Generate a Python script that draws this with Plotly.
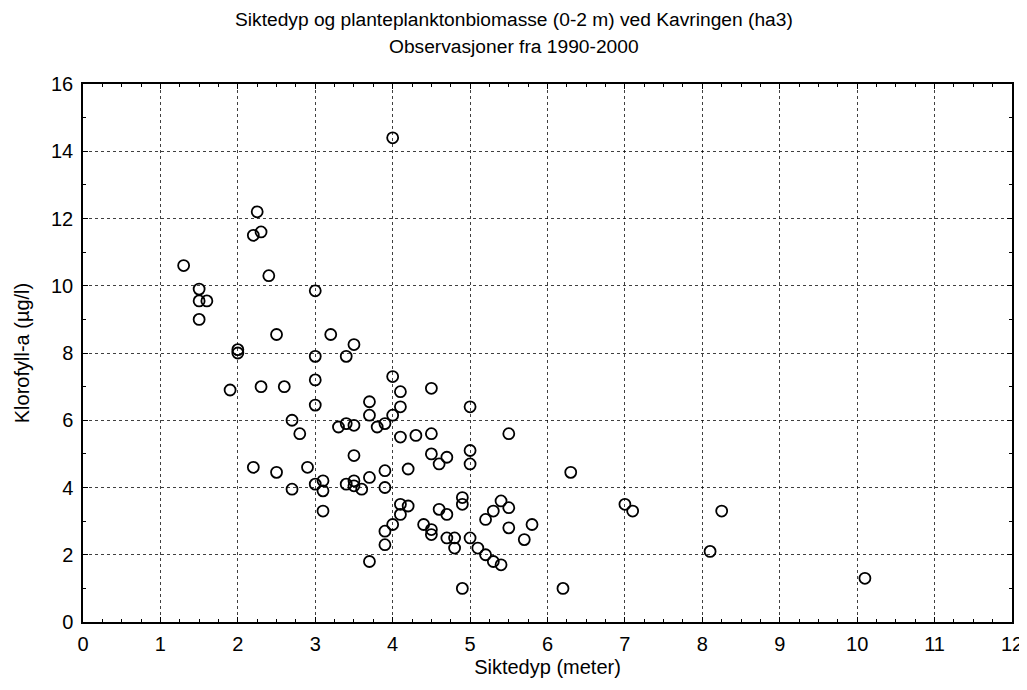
import plotly.graph_objects as go

siktedyp = [1.3, 1.5, 1.5, 1.6, 1.5, 1.9, 2.0, 2.0, 2.2, 2.25, 2.3, 2.4, 2.5, 2.3, 2.6,
            2.2, 2.5, 2.7, 2.8, 2.7, 2.9, 3.0, 3.0, 3.0, 3.0, 3.0, 3.1, 3.1, 3.1, 3.2,
            3.3, 3.4, 3.4, 3.5, 3.4, 3.5, 3.5, 3.5, 3.5, 3.6, 3.7, 3.7, 3.7, 3.7, 3.8,
            3.9, 3.9, 3.9, 3.9, 3.9, 4.0, 4.0, 4.0, 4.0, 4.1, 4.1, 4.1, 4.1, 4.1, 4.2,
            4.2, 4.3, 4.4, 4.5, 4.5, 4.5, 4.5, 4.5, 4.6, 4.6, 4.7, 4.7, 4.7, 4.8, 4.8,
            4.9, 4.9, 4.9, 5.0, 5.0, 5.0, 5.0, 5.1, 5.2, 5.2, 5.3, 5.3, 5.4, 5.4, 5.5,
            5.5, 5.5, 5.7, 5.8, 6.2, 6.3, 7.0, 7.1, 8.1, 8.25, 10.1]
klorofyll = [10.6, 9.9, 9.55, 9.55, 9.0, 6.9, 8.1, 8.0, 11.5, 12.2, 11.6, 10.3, 8.55, 7.0, 7.0,
             4.6, 4.45, 6.0, 5.6, 3.95, 4.6, 9.85, 7.9, 7.2, 6.45, 4.1, 4.2, 3.9, 3.3, 8.55,
             5.8, 7.9, 5.9, 5.85, 4.1, 8.25, 4.95, 4.2, 4.05, 3.95, 6.55, 6.15, 4.3, 1.8, 5.8,
             5.9, 4.5, 4.0, 2.7, 2.3, 14.4, 7.3, 6.15, 2.9, 6.85, 6.4, 5.5, 3.5, 3.2, 4.55,
             3.45, 5.55, 2.9, 6.95, 5.6, 5.0, 2.75, 2.6, 4.7, 3.35, 4.9, 3.2, 2.5, 2.5, 2.2,
             3.7, 3.5, 1.0, 6.4, 5.1, 4.7, 2.5, 2.2, 3.05, 2.0, 3.3, 1.8, 3.6, 1.7, 5.6,
             3.4, 2.8, 2.45, 2.9, 1.0, 4.45, 3.5, 3.3, 2.1, 3.3, 1.3]

x_ticks = list(range(0, 13))
y_ticks = list(range(0, 17, 2))

title_lines = ["Siktedyp og planteplanktonbiomasse (0-2 m) ved Kavringen (ha3)",
               "Observasjoner fra 1990-2000"]

FONT = "Liberation Sans, Arial, sans-serif"
FS = 20
FS_TITLE = 19.2

fig = go.Figure()
fig.add_trace(go.Scatter(
    x=siktedyp, y=klorofyll, mode="markers",
    marker=dict(symbol="circle-open", size=11, color="black", line=dict(width=1.8, color="black")),
    showlegend=False,
))

axis_common = dict(
    showline=True, linecolor="black", linewidth=1.5, mirror="ticks",
    ticks="inside", ticklen=5, tickcolor="black", tickwidth=1,
    showgrid=True, gridcolor="rgba(0,0,0,0.75)", griddash="dot", gridwidth=1,
    zeroline=False,
    tickfont=dict(family=FONT, size=FS, color="black"),
)

fig.update_xaxes(
    range=[0, 12], tickvals=x_ticks, ticktext=[str(v) for v in x_ticks],
    ticklabelstandoff=3,
    minor=dict(ticks="inside", dtick=0.25, ticklen=3, tickcolor="black", showgrid=False),
    title=dict(text="Siktedyp (meter)", font=dict(family=FONT, size=FS, color="black"), standoff=6),
    **axis_common,
)
fig.update_yaxes(
    range=[0, 16], tickvals=y_ticks, ticktext=[str(v) for v in y_ticks],
    ticklabelstandoff=4,
    minor=dict(ticks="inside", dtick=1, ticklen=3, tickcolor="black", showgrid=False),
    title=dict(text="Klorofyll-a (µg/l)", font=dict(family=FONT, size=FS, color="black"), standoff=16),
    **axis_common,
)

# page body has an 8px margin; margins compensate so the plot area lands where the reference has it
fig.update_layout(
    width=1027, height=690,
    paper_bgcolor="white", plot_bgcolor="white",
    margin=dict(l=75, r=23, t=76, b=76, autoexpand=False),
)
for line, yy in zip(title_lines, [1.119, 1.0688]):
    fig.add_annotation(
        text=line, xref="paper", yref="paper", x=(506 - 75) / 929, y=yy,
        xanchor="center", yanchor="middle", showarrow=False,
        font=dict(family=FONT, size=FS_TITLE, color="black"),
    )

fig.write_html("out.html")
